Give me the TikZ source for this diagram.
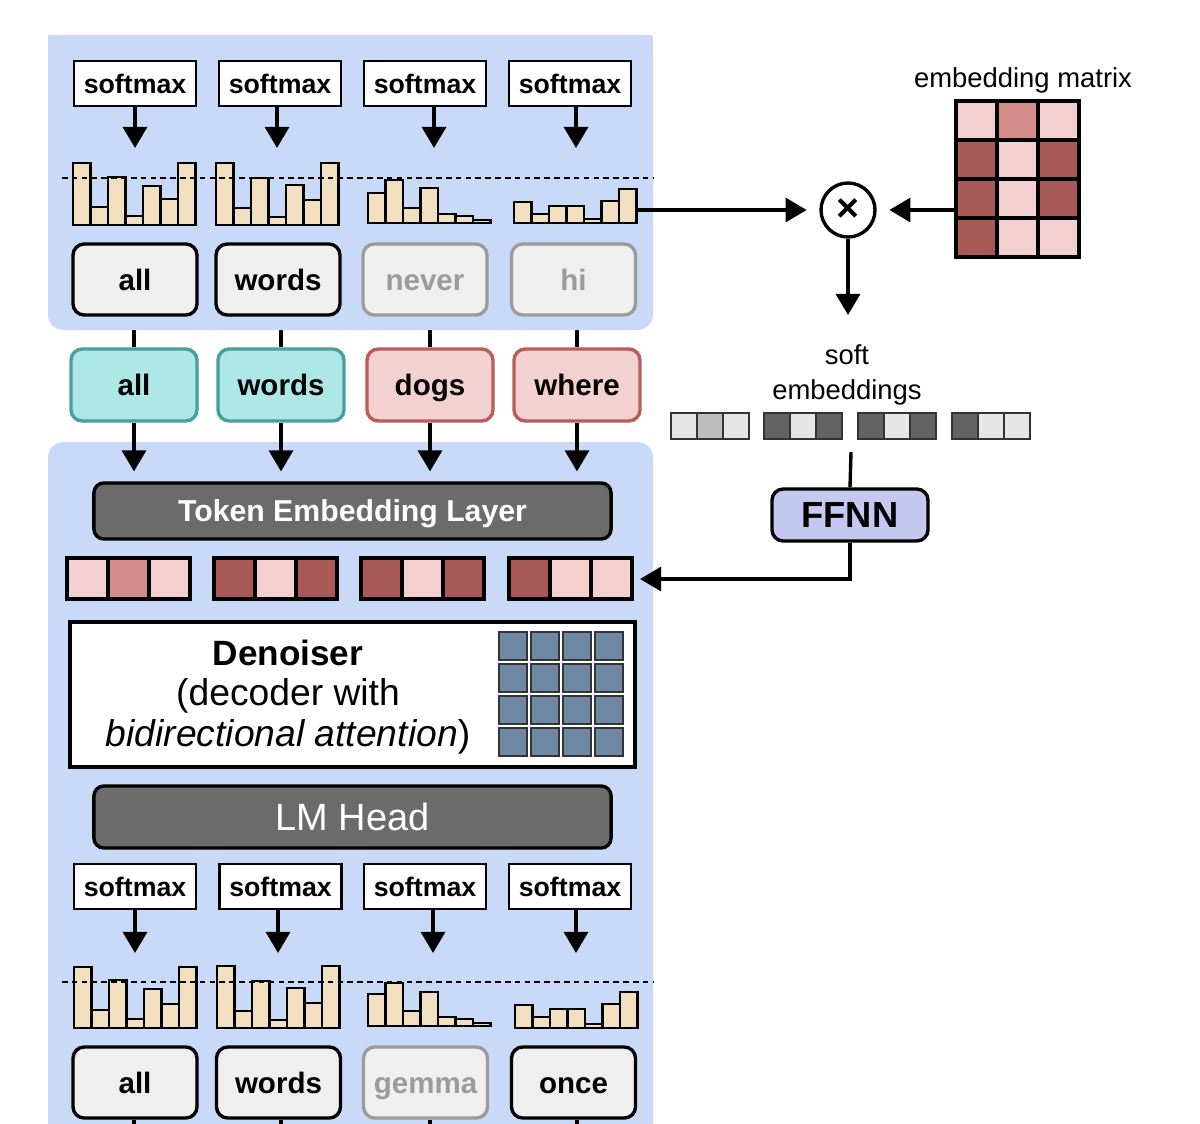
\documentclass[tikz,border=0pt]{standalone}
\usepackage{fontspec}
\setmainfont{Liberation Sans}
\usetikzlibrary{arrows.meta,backgrounds}

\definecolor{panel}{HTML}{C9DAF8}
\definecolor{wordfill}{HTML}{EFEFEF}
\definecolor{fadegray}{HTML}{9B9B9B}
\definecolor{tealfill}{HTML}{AEE8E6}
\definecolor{tealline}{HTML}{4A9E9B}
\definecolor{rosefill}{HTML}{F3D1D0}
\definecolor{roseline}{HTML}{B85D5A}
\definecolor{barfill}{HTML}{F2DFC0}
\definecolor{layergray}{HTML}{6B6B6B}
\definecolor{ffnnfill}{HTML}{C5C8F0}
\definecolor{attnblue}{HTML}{6F88A3}
\definecolor{pinkL}{HTML}{F3CFCF}
\definecolor{pinkM}{HTML}{D38C88}
\definecolor{pinkD}{HTML}{A85955}
\definecolor{greyL}{HTML}{E6E6E6}
\definecolor{greyM}{HTML}{BDBDBD}
\definecolor{greyD}{HTML}{636363}

\begin{document}
\begin{tikzpicture}[x=0.025cm, y=-0.025cm,
  smbox/.style={draw, line width=1.6pt, fill=white, minimum width=3.05cm, minimum height=1.125cm,
    inner sep=0pt, text height=13.8pt, text depth=0pt, font=\fontsize{19}{21}\selectfont\bfseries},
  tokbox/.style={draw, line width=2.4pt, rounded corners=8pt, fill=wordfill, minimum width=3.1cm,
    minimum height=1.775cm, inner sep=0pt, text height=15.2pt, text depth=0pt,
    font=\fontsize{21}{24}\selectfont\bfseries},
  faded/.style={draw=fadegray, text=fadegray},
  tealword/.style={tokbox, fill=tealfill, draw=tealline, minimum width=3.15cm, minimum height=1.8cm},
  roseword/.style={tokbox, fill=rosefill, draw=roseline, minimum width=3.15cm, minimum height=1.8cm},
  layerbox/.style={draw, line width=2.4pt, rounded corners=7pt, fill=layergray, text=white,
    minimum width=12.925cm, inner sep=0pt, text depth=0pt},
  arrowline/.style={line width=2.6pt, -{Triangle[length=15pt, width=17pt]}},
  wire/.style={line width=2.4pt},
  histbar/.style={draw, line width=1.8pt, fill=barfill},
  dashline/.style={line width=1.1pt, dash pattern=on 4pt off 3pt},
]
\useasboundingbox (0,0) rectangle (1200,1123);

% top softmax row
\foreach \x [count=\i] in {135,280,425,570}
  \node[smbox] (sm\i) at (\x,83.5) {softmax};
\foreach \x [count=\i] in {135,277,434,576} {
  \coordinate (tip\i) at (\x,148);
  \draw[arrowline] (sm\i.south -| tip\i) -- (tip\i);
}
\foreach \x/\b/\hs in {73/225/{62,18,48,9,39,26,62}, 216/225/{62,17,47,8,40,25,62},
                       368/223/{30,43,15,35,9,7,3}, 514/223/{21,9,17,17,4,22,34}}
  \foreach \h [count=\k] in \hs
    \draw[histbar] ({\x+(\k-1)*17.5},\b) rectangle ++(17.5,-\h);
\draw[dashline] (62,178) -- (653,178);
\coordinate (histout) at (636.5,210);

\foreach \x/\t/\s [count=\i] in {135/all/, 278/words/, 425/never/faded, 573.5/hi/faded}
  \node[tokbox,\s] (out\i) at (\x,279.5) {\t};

% noised input tokens
\foreach \x/\t/\s [count=\i] in {134/all/tealword, 281/words/tealword, 430/dogs/roseword, 577/where/roseword}
  \node[\s] (in\i) at (\x,385) {\t};

\node[layerbox, minimum height=1.4cm, text height=15.5pt, font=\fontsize{21.5}{24}\selectfont\bfseries] (emb) at (352.5,511) {Token Embedding Layer};
\foreach \i in {1,...,4}
  \draw[arrowline, shorten >=7pt] (in\i.south) -- (in\i.south |- emb.north);

\foreach \x/\ca/\cb/\cc in {67/pinkL/pinkM/pinkL, 214/pinkD/pinkL/pinkD, 361/pinkD/pinkL/pinkD, 509/pinkD/pinkL/pinkL}
  \foreach \c [count=\k] in {\ca,\cb,\cc}
    \filldraw[fill=\c, line width=2.2pt] ({\x+(\k-1)*41},558) rectangle ++(41,41);
\coordinate (vecend) at (640,579);

% denoiser
\node[draw, line width=2.4pt, fill=white, minimum width=14.125cm, minimum height=3.625cm] (den) at (352.5,694.5) {};
\node[align=center, font=\fontsize{26.5}{29}\selectfont] (dentext) at (288,697)
  {{\fontsize{25}{29}\selectfont\bfseries Denoiser}\\(decoder with\\\textit{bidirectional attention})};
\foreach \r in {0,...,3}
  \foreach \c in {0,...,3}
    \filldraw[fill=attnblue, draw=black!80, line width=1.1pt] ({499+\c*32},{632+\r*32}) rectangle ++(28,28);

\node[layerbox, minimum height=1.55cm, text height=19.5pt, font=\fontsize{27}{30}\selectfont] (head) at (352.5,817) {LM Head};

% bottom softmax row
\foreach \x [count=\i] in {135,280.5,425,570}
  \node[smbox] (bsm\i) at (\x,886.5) {softmax};
\foreach \x [count=\i] in {135,278,433,576} {
  \coordinate (btip\i) at (\x,953);
  \draw[arrowline] (bsm\i.south -| btip\i) -- (btip\i);
}
\foreach \x/\b/\hs in {74/1028/{61,18,48,9,39,24,61}, 217/1028/{62,17,47,8,40,25,62},
                       368/1026/{32,43,15,34,9,7,3}, 515/1028/{23,11,19,19,4,24,36}}
  \foreach \h [count=\k] in \hs
    \draw[histbar] ({\x+(\k-1)*17.5},\b) rectangle ++(17.5,-\h);
\draw[dashline] (62,982) -- (653,982);

\foreach \x/\t/\s [count=\i] in {135/all/, 278.5/words/, 425.5/gemma/faded, 573.5/once/}
  \node[tokbox,\s] (res\i) at (\x,1082.5) {\t};
\foreach \i in {1,...,4}
  \draw[wire] (res\i.south -| in\i.south) -- ++(0,8);

% right side
\node[font=\fontsize{19.5}{22}\selectfont] (matlbl) at (1023,80) {embedding matrix};
\foreach \row [count=\r] in {{pinkL,pinkM,pinkL},{pinkD,pinkL,pinkD},{pinkD,pinkL,pinkD},{pinkD,pinkL,pinkL}}
  \foreach \c [count=\k] in \row
    \filldraw[fill=\c, line width=2.8pt] ({956+(\k-1)*41},{101+(\r-1)*39}) rectangle ++(41,39);
\coordinate (matin) at (956,210);

\node[draw, circle, line width=2.4pt, minimum size=1.35cm, inner sep=0pt,
  font=\fontsize{28}{28}\selectfont\bfseries] (mul) at (848,210) {×};
\draw[arrowline, shorten >=9pt] (histout) -- (mul.west);
\draw[arrowline, shorten >=9pt] (matin) -- (mul.east);
\coordinate (mulend) at (848,315);
\draw[arrowline] (mul.south) -- (mulend);

\node[align=center, font=\fontsize{19.5}{25}\selectfont] (softlbl) at (847,375) {soft\\embeddings};
\foreach \x/\ca/\cb/\cc in {671/greyL/greyM/greyL, 764/greyD/greyL/greyD, 858/greyD/greyL/greyD, 952/greyD/greyL/greyL}
  \foreach \c [count=\k] in {\ca,\cb,\cc}
    \filldraw[fill=\c, draw=black!80, line width=1.6pt] ({\x+(\k-1)*26},413) rectangle ++(26,26);
\coordinate (softout) at (851,452);

\node[draw, line width=2.4pt, rounded corners=8pt, fill=ffnnfill, minimum width=3.9cm, minimum height=1.3cm,
  inner sep=0pt, font=\fontsize{25.8}{28}\selectfont\bfseries] (ffnn) at (850,515) {FFNN};
\draw[wire] (softout) -- (ffnn.north);
\draw[arrowline] (ffnn.south) |- (vecend);

\begin{scope}[on background layer]
  \fill[white] (0,0) rectangle (1200,1123);
  \foreach \i in {1,...,4}
    \draw[wire] (in\i.north) -- (in\i.north |- out\i.south);
  \fill[panel, rounded corners=11pt] (48,35) rectangle (653,330);
  \fill[panel] (48,35) rectangle (653,60);
  \fill[panel, rounded corners=11pt] (48,442) rectangle (653,1150);
\end{scope}
\end{tikzpicture}
\end{document}
